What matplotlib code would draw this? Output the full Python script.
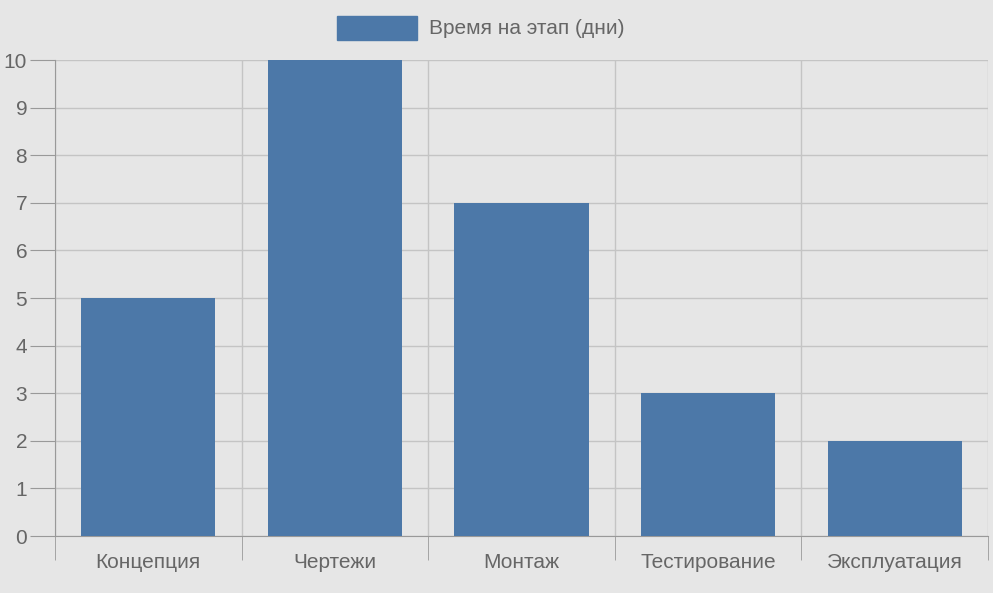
import matplotlib
matplotlib.use("Agg")
import matplotlib.pyplot as plt
from matplotlib.patches import Rectangle

categories = ["Концепция", "Чертежи", "Монтаж", "Тестирование", "Эксплуатация"]
values = [5, 10, 7, 3, 2]
series_name = "Время на этап (дни)"

plt.rcParams['font.family'] = ['Liberation Sans', 'DejaVu Sans']
bg = "#e6e6e6"; bar_c = "#4c78a8"; txt = "#666666"; grid_c = "#c4c4c4"

fig = plt.figure(figsize=(9.93, 5.93), dpi=100, facecolor=bg)
ax = fig.add_axes([55/993, 57/593, 933/993, 476/593], facecolor=bg)
x = list(range(len(categories)))
ax.bar(x, values, width=0.72, color=bar_c, zorder=3)
ax.set_xlim(-0.5, len(categories) - 0.5)
ax.set_ylim(0, 10)
ax.set_yticks(range(0, 11))
ax.set_xticks(x)
ax.set_xticklabels(categories)
ax.set_xticks([i - 0.5 for i in range(len(categories) + 1)], minor=True)
ax.tick_params(axis='x', which='major', length=0, pad=12, labelsize=15, labelcolor=txt)
ax.tick_params(axis='x', which='minor', length=17, color="#999999")
ax.tick_params(axis='y', length=18, color="#999999", labelsize=15, labelcolor=txt, pad=2)
ax.grid(axis='y', color=grid_c, lw=1, zorder=0)
ax.grid(axis='x', which='minor', color=grid_c, lw=1, zorder=0)
for s in ['top', 'right']:
    ax.spines[s].set_visible(False)
for s in ['left', 'bottom']:
    ax.spines[s].set_color("#999999")

fig.patches.append(Rectangle((337/993, 1 - 40/593), 80/993, 24/593,
                             transform=fig.transFigure, color=bar_c))
fig.text(429/993, 1 - 28/593, series_name, fontsize=15, color=txt, va='center', ha='left')
fig.savefig("out.png", dpi=100, facecolor=bg)
